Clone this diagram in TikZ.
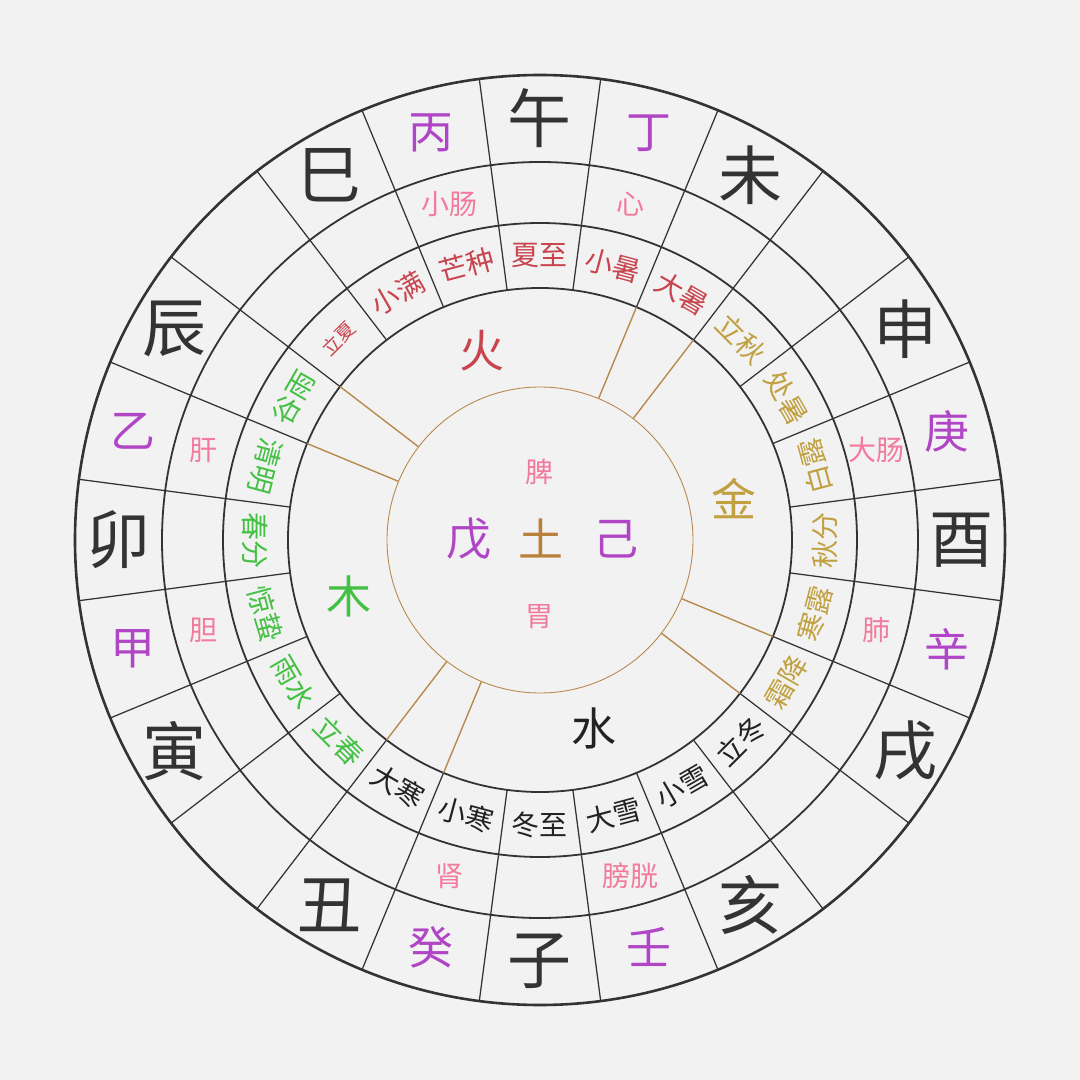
\documentclass[tikz,border=0pt]{standalone}
\usepackage{fontspec}
\newfontfamily\cjk{Noto Sans CJK SC}
\definecolor{bg}{HTML}{F2F2F2}
\definecolor{ink}{HTML}{333333}
\definecolor{stem}{HTML}{B046C6}
\definecolor{organ}{HTML}{F27A9E}
\definecolor{summer}{HTML}{C8444E}
\definecolor{autumn}{HTML}{C0A040}
\definecolor{winter}{HTML}{222222}
\definecolor{spring}{HTML}{44C044}
\definecolor{earth}{HTML}{B8803A}
\definecolor{earthline}{HTML}{B88A4E}
\tikzset{
  ringline/.style={draw=ink, line width=1.8pt},
  outerline/.style={draw=ink, line width=2.6pt},
  spoke/.style={draw=ink, line width=1.25pt},
  earthspoke/.style={draw=earthline, line width=1.4pt},
  lbl/.style={inner sep=0pt, outer sep=0pt},
  branch/.style={lbl, text=ink, font=\cjk\fontsize{64}{64}\selectfont},
  stemlbl/.style={lbl, text=stem, font=\cjk\fontsize{45}{45}\selectfont},
  organlbl/.style={lbl, text=organ, font=\cjk\fontsize{28}{28}\selectfont},
  termlbl/.style={lbl, font=\cjk\fontsize{28}{28}\selectfont},
  smallterm/.style={lbl, font=\cjk\fontsize{19}{19}\selectfont},
  element/.style={lbl, font=\cjk\fontsize{45}{45}\selectfont},
}
\begin{document}
\begin{tikzpicture}[x=1pt,y=1pt]
\fill[bg] (-540,-540) rectangle (540,540);
\useasboundingbox (-540,-540) rectangle (540,540);

% rings
\draw[earthline, line width=0.9pt] (0,0) circle (153);
\draw[ringline] (0,0) circle (252);
\draw[ringline] (0,0) circle (317);
\draw[ringline] (0,0) circle (378);
\draw[outerline] (0,0) circle (465);

% spokes
\foreach \a in {7.5,22.5,...,352.5}
  \draw[spoke] (\a:252) -- (\a:465);

% earth boundaries
\foreach \a in {52.5,67.5,142.5,157.5,-37.5,-22.5,-127.5,-112.5}
  \draw[earthspoke] (\a:153) -- (\a:252);

% branches
\node[branch] (wu)   at (90:421.5)  {午};
\node[branch] (wei)  at (60:421.5)  {未};
\node[branch] (shen) at (30:421.5)  {申};
\node[branch] (you)  at (0:421.5)   {酉};
\node[branch] (xu)   at (-30:421.5) {戌};
\node[branch] (hai)  at (-60:421.5) {亥};
\node[branch] (zi)   at (-90:421.5) {子};
\node[branch] (chou) at (-120:421.5) {丑};
\node[branch] (yin)  at (-150:421.5) {寅};
\node[branch] (mao)  at (180:421.5) {卯};
\node[branch] (chen) at (150:421.5) {辰};
\node[branch] (si)   at (120:421.5) {巳};

% stems
\node[stemlbl] (bing) at (105:421.5) {丙};
\node[stemlbl] (ding) at (75:421.5)  {丁};
\node[stemlbl] (geng) at (15:421.5)  {庚};
\node[stemlbl] (xin)  at (-15:421.5) {辛};
\node[stemlbl] (ren)  at (-75:421.5) {壬};
\node[stemlbl] (gui)  at (-105:421.5) {癸};
\node[stemlbl] (jia)  at (-165:421.5) {甲};
\node[stemlbl] (yi)   at (165:421.5) {乙};

% organs
\node[organlbl] (xiaochang) at (105:348) {小肠};
\node[organlbl] (xin2)      at (75:348)  {心};
\node[organlbl] (dachang)   at (15:348)  {大肠};
\node[organlbl] (fei)       at (-15:348) {肺};
\node[organlbl] (pangguang) at (-75:348) {膀胱};
\node[organlbl] (shenz)     at (-105:348) {肾};
\node[organlbl] (dan)       at (-165:348) {胆};
\node[organlbl] (gan)       at (165:348) {肝};

% solar terms
\node[termlbl, text=summer, rotate=0]   (t1)  at (90:284.5)  {夏至};
\node[termlbl, text=summer, rotate=15]  (t2)  at (105:284.5) {芒种};
\node[termlbl, text=summer, rotate=30]  (t3)  at (120:284.5) {小满};
\node[smallterm, text=summer, rotate=45] (t4) at (135:284.5) {立夏};
\node[termlbl, text=spring, rotate=60]  (t5)  at (150:284.5) {谷雨};
\node[termlbl, text=spring, rotate=-105] (t6) at (165:284.5) {清明};
\node[termlbl, text=spring, rotate=-90] (t7)  at (180:284.5) {春分};
\node[termlbl, text=spring, rotate=-75] (t8)  at (195:284.5) {惊蛰};
\node[termlbl, text=spring, rotate=-60] (t9)  at (210:284.5) {雨水};
\node[termlbl, text=spring, rotate=-45] (t10) at (225:284.5) {立春};
\node[termlbl, text=winter, rotate=-30] (t11) at (240:284.5) {大寒};
\node[termlbl, text=winter, rotate=-15] (t12) at (255:284.5) {小寒};
\node[termlbl, text=winter, rotate=0]   (t13) at (270:284.5) {冬至};
\node[termlbl, text=winter, rotate=15]  (t14) at (285:284.5) {大雪};
\node[termlbl, text=winter, rotate=30]  (t15) at (300:284.5) {小雪};
\node[termlbl, text=winter, rotate=45]  (t16) at (315:284.5) {立冬};
\node[termlbl, text=autumn, rotate=60]  (t17) at (330:284.5) {霜降};
\node[termlbl, text=autumn, rotate=75]  (t18) at (345:284.5) {寒露};
\node[termlbl, text=autumn, rotate=90]  (t19) at (0:284.5)   {秋分};
\node[termlbl, text=autumn, rotate=105] (t20) at (15:284.5)  {白露};
\node[termlbl, text=autumn, rotate=-60] (t21) at (30:284.5)  {处暑};
\node[termlbl, text=autumn, rotate=-45] (t22) at (45:284.5)  {立秋};
\node[termlbl, text=summer, rotate=-30] (t23) at (60:284.5)  {大暑};
\node[termlbl, text=summer, rotate=-15] (t24) at (75:284.5)  {小暑};

% elements
\node[element, text=summer] (huo) at (107:198) {火};
\node[element, text=autumn] (jin) at (12:198)  {金};
\node[element, text=winter] (shui) at (-74:196) {水};
\node[element, text=spring] (mu) at (196.5:199)  {木};

% center
\node[element, text=stem]  (wu2) at (-71,1) {戊};
\node[element, text=earth] (tu)  at (1,2)   {土};
\node[element, text=stem]  (ji)  at (76,1)  {己};
\node[organlbl] (pi)  at (0,68)  {脾};
\node[organlbl] (wei2) at (0,-77) {胃};
\end{tikzpicture}
\end{document}
